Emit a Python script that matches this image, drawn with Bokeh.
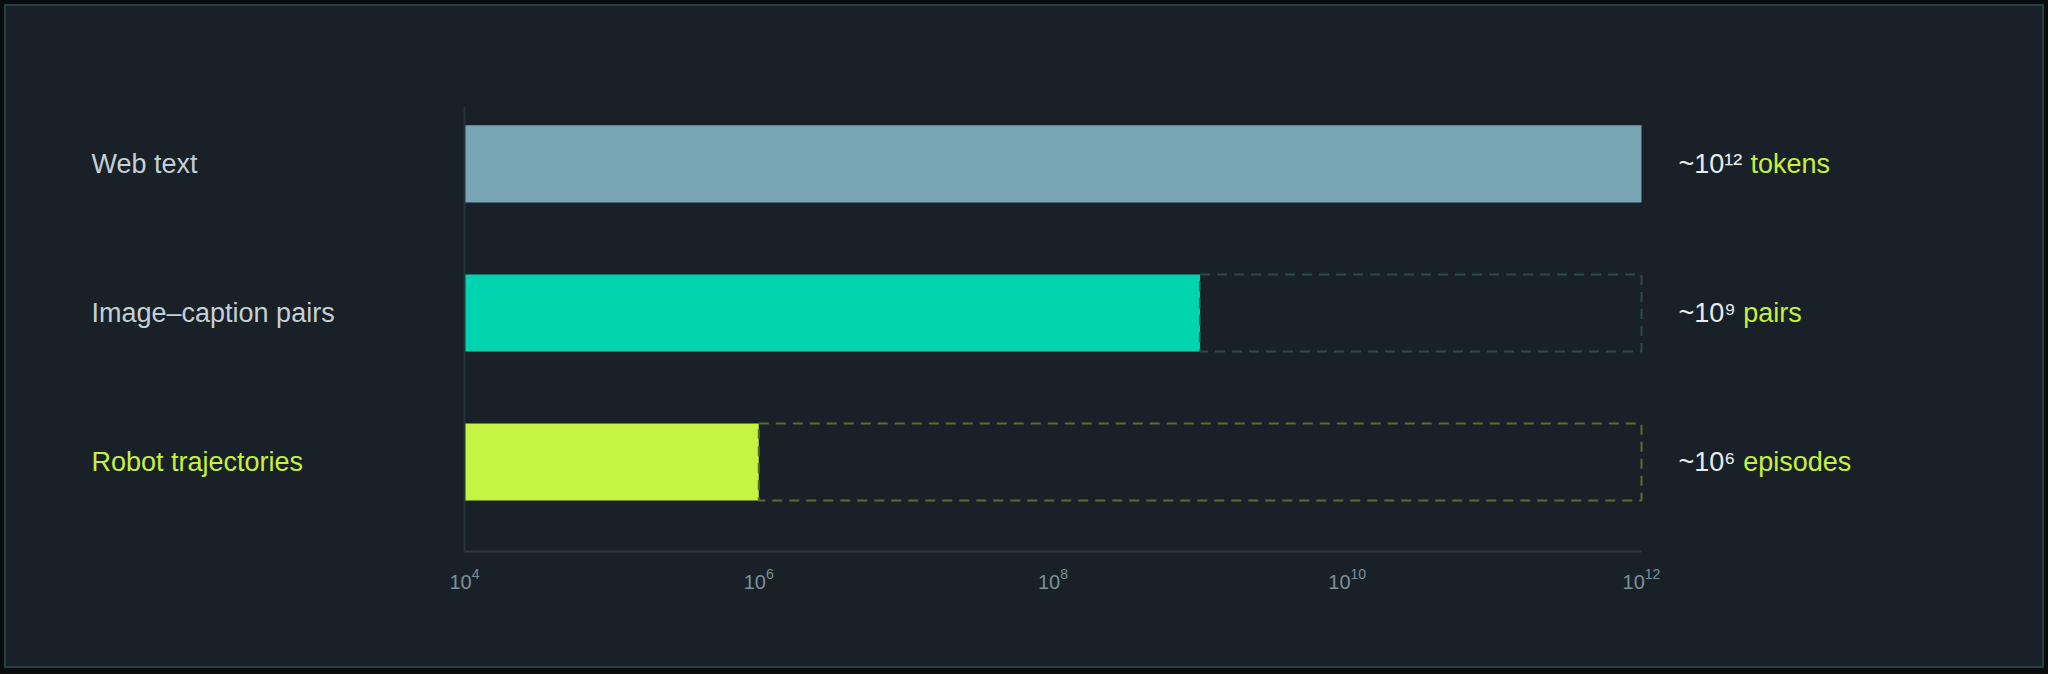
from bokeh.plotting import figure
from bokeh.models import FixedTicker, Range1d, Span, LinearScale
from bokeh.core.properties import value
from bokeh.embed import file_html
from bokeh.resources import INLINE
import math

# ---- data ----
categories = ["Web text", "Image\u2013caption pairs", "Robot trajectories"]
values = [1e12, 1e9, 1e6]
targets = [1e12, 1e12, 1e12]
magnitudes = ["~10\u00b9\u00b2", "~10\u2079", "~10\u2076"]
units = ["tokens", "pairs", "episodes"]
x_ticks = [1e4, 1e6, 1e8, 1e10, 1e12]
x_min, x_max = 1e4, 1e12

# ---- styles / layout ----
BG = "#192027"
bar_colors = ["#78a5b3", "#00d4ae", "#c6f443"]
label_colors = ["#c3d0d6", "#c3d0d6", "#c6f040"]
dash_colors = ["#2b4446", "#2d4a4b", "#5a6e2c"]
FONT = "Liberation Sans"

ORIGIN = 6                  # page offset of the chart card
W, H = 2036, 660            # card size
AX_L, AX_R = 464, 1641      # page x of 10^4 and 10^12
TOP, BOTTOM = 106, 551      # page y of plot area
LABEL_X = 91                # page x of category labels
VALUE_X = 1678              # page x of magnitude labels

dec_px = (AX_R - AX_L) / (math.log10(x_max) - math.log10(x_min))
lo = math.log10(x_min) - (AX_L - ORIGIN) / dec_px
hi = math.log10(x_max) + (ORIGIN + W - AX_R) / dec_px

rows = list(range(len(categories)))

p = figure(width=W, height=H, x_axis_type="log",
           x_range=Range1d(10 ** lo, 10 ** hi), y_range=Range1d(2.6, -0.385),
           output_backend="svg", toolbar_location=None,
           min_border_left=0, min_border_right=0,
           min_border_top=TOP - ORIGIN, min_border_bottom=ORIGIN + H - BOTTOM,
           background_fill_color=BG, border_fill_color=BG,
           outline_line_color=None,
           styles={"margin": f"{ORIGIN}px 0 0 {ORIGIN}px",
                   "background-color": BG,
                   "box-shadow": "0 0 0 2px #2b3c42, 0 0 0 16px #0a0d10"})
p.outline_line_alpha = 0
p.extra_x_ranges = {"px": Range1d(ORIGIN, ORIGIN + W)}
p.extra_x_scales = {"px": LinearScale()}

p.xgrid.visible = False
p.ygrid.visible = False
p.yaxis.visible = False

# bars
p.hbar(y=rows, left=[x_min] * len(rows), right=values, height=0.517,
       fill_color=bar_colors, line_color=None)

# dashed remaining-gap outlines
gy, gl, gr, gc = [], [], [], []
for i, (v, t) in enumerate(zip(values, targets)):
    if v < t:
        gy.append(i); gl.append(v); gr.append(t); gc.append(dash_colors[i])
p.hbar(y=gy, left=gl, right=gr, height=0.517, fill_color=None,
       line_color=gc, line_dash="10 7", line_width=2)

# left axis line
p.add_layout(Span(location=x_min, dimension="height", line_color="#24343a",
                  line_width=2))

# x axis
xa = p.xaxis[0]
xa.ticker = FixedTicker(ticks=x_ticks)
xa.bounds = (x_min, x_max)
xa.major_tick_line_color = None
xa.minor_tick_line_color = None
xa.axis_line_color = "#2b3b41"
xa.axis_line_width = 2
xa.major_label_text_color = "#7a919a"
xa.major_label_text_font = FONT
xa.major_label_text_font_size = "20px"
xa.major_label_standoff = 10

# category labels (left)
p.text(x=[LABEL_X] * len(rows), y=rows, text=categories, x_range_name="px",
       text_color=label_colors, text_font=value(FONT), text_font_size=value("27px"),
       text_baseline="middle", text_align="left")

# magnitude + unit labels (right)
def text_w(s, size=27):
    w = 0.0
    for ch in s:
        if ch in "\u00b9\u00b2\u00b3":
            w += 0.346 * size
        elif ch in "\u2070\u2074\u2075\u2076\u2077\u2078\u2079":
            w += 0.42 * size
        elif ch == "~":
            w += 0.584 * size
        else:
            w += 0.556 * size
    return w

p.text(x=[VALUE_X] * len(rows), y=rows, text=magnitudes, x_range_name="px",
       text_color="#e6ecef", text_font=value(FONT), text_font_size=value("27px"),
       text_baseline="middle", text_align="left")
p.text(x=[VALUE_X + text_w(m) + 7.5 for m in magnitudes], y=rows, text=units,
       x_range_name="px", text_color="#c6f040", text_font=value(FONT),
       text_font_size=value("27px"), text_baseline="middle", text_align="left")

open("out.html", "w").write(file_html(p, INLINE))
